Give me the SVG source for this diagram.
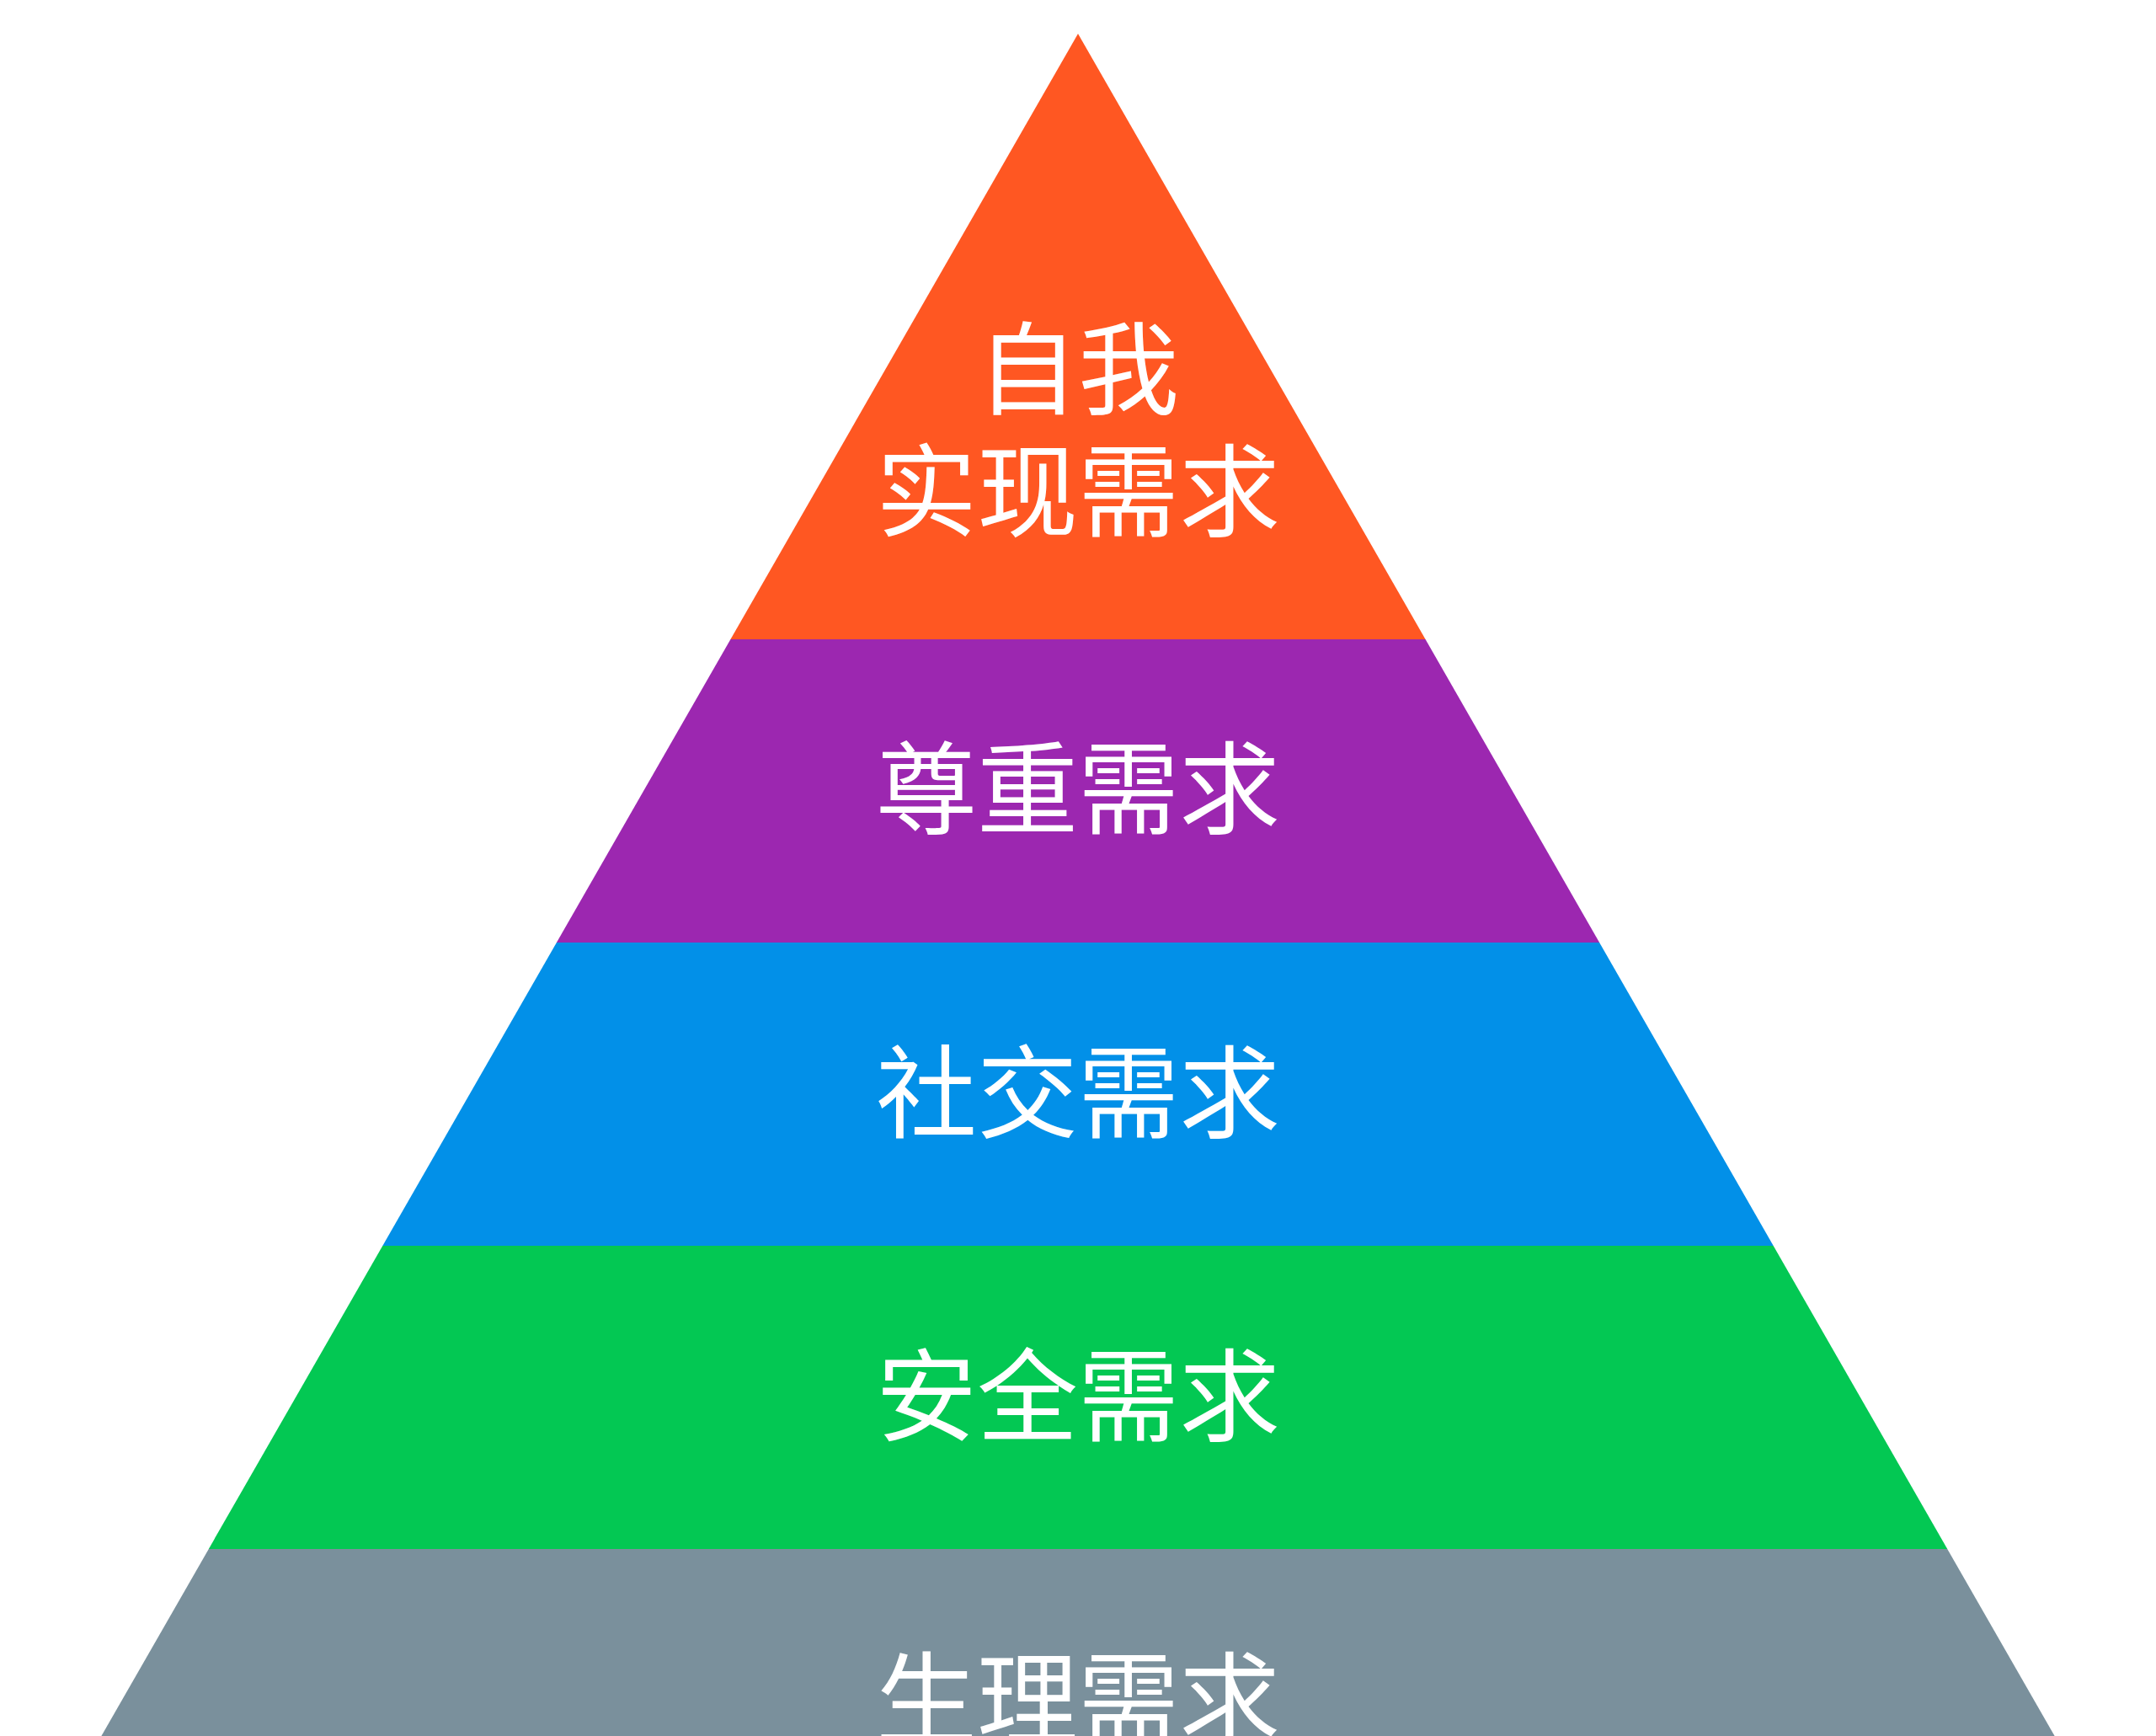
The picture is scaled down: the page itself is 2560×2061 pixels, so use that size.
<svg xmlns="http://www.w3.org/2000/svg" width="2560" height="2061" viewBox="0 0 2560 2061">
<style>
.lbl{font-family:"Noto Sans CJK SC","Noto Sans",sans-serif;font-size:120px;fill:#ffffff;text-anchor:middle;}
</style>
<defs>
<clipPath id="tri"><polygon points="1280,40 98,2100 2462,2100"/></clipPath>
</defs>
<rect width="2560" height="2061" fill="#ffffff"/>
<g clip-path="url(#tri)">
<g id="level5"><rect x="0" y="0" width="2560" height="759" fill="#FF5722"/></g>
<g id="level4"><rect x="0" y="759" width="2560" height="360" fill="#9C27B0"/></g>
<g id="level3"><rect x="0" y="1119" width="2560" height="360" fill="#0290E8"/></g>
<g id="level2"><rect x="0" y="1479" width="2560" height="360" fill="#03C853"/></g>
<g id="level1"><rect x="0" y="1839" width="2560" height="300" fill="#7A909C"/></g>
</g>
<g id="labels">
<text class="lbl" x="1280" y="483">自我</text>
<text class="lbl" x="1280" y="628">实现需求</text>
<text class="lbl" x="1280" y="981">尊重需求</text>
<text class="lbl" x="1280" y="1342">社交需求</text>
<text class="lbl" x="1280" y="1702">安全需求</text>
<text class="lbl" x="1280" y="2062">生理需求</text>
</g>
</svg>
